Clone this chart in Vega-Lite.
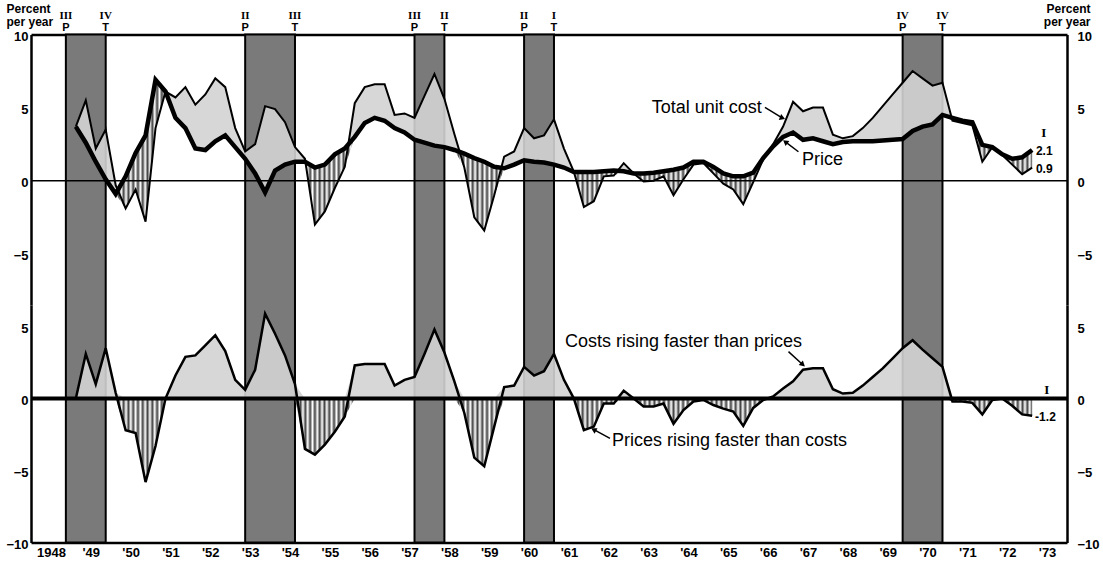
{
  "$schema": "https://vega.github.io/schema/vega-lite/v6.json",
  "width": 1036,
  "height": 508,
  "autosize": "none",
  "padding": {"left": 31, "top": 34.5, "right": 36, "bottom": 19.5},
  "background": "white",
  "config": {
    "view": {"stroke": null},
    "axis": {"zindex": 1},
    "area": {"fill": {"gradient": "linear", "x1": 0, "y1": 0, "x2": 1, "y2": 0, "stops": [
      {"offset":0,"color":"#444"},{"offset":0.0025,"color":"#fff"},{"offset":0.005,"color":"#444"},{"offset":0.0075,"color":"#fff"},
      {"offset":0.01,"color":"#444"},{"offset":0.0125,"color":"#fff"},{"offset":0.015,"color":"#444"},{"offset":0.0175,"color":"#fff"},
      {"offset":0.02,"color":"#444"},{"offset":0.0225,"color":"#fff"},{"offset":0.025,"color":"#444"},{"offset":0.0275,"color":"#fff"},
      {"offset":0.03,"color":"#444"},{"offset":0.0325,"color":"#fff"},{"offset":0.035,"color":"#444"},{"offset":0.0375,"color":"#fff"},
      {"offset":0.04,"color":"#444"},{"offset":0.0425,"color":"#fff"},{"offset":0.045,"color":"#444"},{"offset":0.0475,"color":"#fff"},
      {"offset":0.05,"color":"#444"},{"offset":0.0525,"color":"#fff"},{"offset":0.055,"color":"#444"},{"offset":0.0575,"color":"#fff"},
      {"offset":0.06,"color":"#444"},{"offset":0.0625,"color":"#fff"},{"offset":0.065,"color":"#444"},{"offset":0.0675,"color":"#fff"},
      {"offset":0.07,"color":"#444"},{"offset":0.0725,"color":"#fff"},{"offset":0.075,"color":"#444"},{"offset":0.0775,"color":"#fff"},
      {"offset":0.08,"color":"#444"},{"offset":0.0825,"color":"#fff"},{"offset":0.085,"color":"#444"},{"offset":0.0875,"color":"#fff"},
      {"offset":0.09,"color":"#444"},{"offset":0.0925,"color":"#fff"},{"offset":0.095,"color":"#444"},{"offset":0.0975,"color":"#fff"},
      {"offset":0.1,"color":"#444"},{"offset":0.1025,"color":"#fff"},{"offset":0.105,"color":"#444"},{"offset":0.1075,"color":"#fff"},
      {"offset":0.11,"color":"#444"},{"offset":0.1125,"color":"#fff"},{"offset":0.115,"color":"#444"},{"offset":0.1175,"color":"#fff"},
      {"offset":0.12,"color":"#444"},{"offset":0.1225,"color":"#fff"},{"offset":0.125,"color":"#444"},{"offset":0.1275,"color":"#fff"},
      {"offset":0.13,"color":"#444"},{"offset":0.1325,"color":"#fff"},{"offset":0.135,"color":"#444"},{"offset":0.1375,"color":"#fff"},
      {"offset":0.14,"color":"#444"},{"offset":0.1425,"color":"#fff"},{"offset":0.145,"color":"#444"},{"offset":0.1475,"color":"#fff"},
      {"offset":0.15,"color":"#444"},{"offset":0.1525,"color":"#fff"},{"offset":0.155,"color":"#444"},{"offset":0.1575,"color":"#fff"},
      {"offset":0.16,"color":"#444"},{"offset":0.1625,"color":"#fff"},{"offset":0.165,"color":"#444"},{"offset":0.1675,"color":"#fff"},
      {"offset":0.17,"color":"#444"},{"offset":0.1725,"color":"#fff"},{"offset":0.175,"color":"#444"},{"offset":0.1775,"color":"#fff"},
      {"offset":0.18,"color":"#444"},{"offset":0.1825,"color":"#fff"},{"offset":0.185,"color":"#444"},{"offset":0.1875,"color":"#fff"},
      {"offset":0.19,"color":"#444"},{"offset":0.1925,"color":"#fff"},{"offset":0.195,"color":"#444"},{"offset":0.1975,"color":"#fff"},
      {"offset":0.2,"color":"#444"},{"offset":0.2025,"color":"#fff"},{"offset":0.205,"color":"#444"},{"offset":0.2075,"color":"#fff"},
      {"offset":0.21,"color":"#444"},{"offset":0.2125,"color":"#fff"},{"offset":0.215,"color":"#444"},{"offset":0.2175,"color":"#fff"},
      {"offset":0.22,"color":"#444"},{"offset":0.2225,"color":"#fff"},{"offset":0.225,"color":"#444"},{"offset":0.2275,"color":"#fff"},
      {"offset":0.23,"color":"#444"},{"offset":0.2325,"color":"#fff"},{"offset":0.235,"color":"#444"},{"offset":0.2375,"color":"#fff"},
      {"offset":0.24,"color":"#444"},{"offset":0.2425,"color":"#fff"},{"offset":0.245,"color":"#444"},{"offset":0.2475,"color":"#fff"},
      {"offset":0.25,"color":"#444"},{"offset":0.2525,"color":"#fff"},{"offset":0.255,"color":"#444"},{"offset":0.2575,"color":"#fff"},
      {"offset":0.26,"color":"#444"},{"offset":0.2625,"color":"#fff"},{"offset":0.265,"color":"#444"},{"offset":0.2675,"color":"#fff"},
      {"offset":0.27,"color":"#444"},{"offset":0.2725,"color":"#fff"},{"offset":0.275,"color":"#444"},{"offset":0.2775,"color":"#fff"},
      {"offset":0.28,"color":"#444"},{"offset":0.2825,"color":"#fff"},{"offset":0.285,"color":"#444"},{"offset":0.2875,"color":"#fff"},
      {"offset":0.29,"color":"#444"},{"offset":0.2925,"color":"#fff"},{"offset":0.295,"color":"#444"},{"offset":0.2975,"color":"#fff"},
      {"offset":0.3,"color":"#444"},{"offset":0.3025,"color":"#fff"},{"offset":0.305,"color":"#444"},{"offset":0.3075,"color":"#fff"},
      {"offset":0.31,"color":"#444"},{"offset":0.3125,"color":"#fff"},{"offset":0.315,"color":"#444"},{"offset":0.3175,"color":"#fff"},
      {"offset":0.32,"color":"#444"},{"offset":0.3225,"color":"#fff"},{"offset":0.325,"color":"#444"},{"offset":0.3275,"color":"#fff"},
      {"offset":0.33,"color":"#444"},{"offset":0.3325,"color":"#fff"},{"offset":0.335,"color":"#444"},{"offset":0.3375,"color":"#fff"},
      {"offset":0.34,"color":"#444"},{"offset":0.3425,"color":"#fff"},{"offset":0.345,"color":"#444"},{"offset":0.3475,"color":"#fff"},
      {"offset":0.35,"color":"#444"},{"offset":0.3525,"color":"#fff"},{"offset":0.355,"color":"#444"},{"offset":0.3575,"color":"#fff"},
      {"offset":0.36,"color":"#444"},{"offset":0.3625,"color":"#fff"},{"offset":0.365,"color":"#444"},{"offset":0.3675,"color":"#fff"},
      {"offset":0.37,"color":"#444"},{"offset":0.3725,"color":"#fff"},{"offset":0.375,"color":"#444"},{"offset":0.3775,"color":"#fff"},
      {"offset":0.38,"color":"#444"},{"offset":0.3825,"color":"#fff"},{"offset":0.385,"color":"#444"},{"offset":0.3875,"color":"#fff"},
      {"offset":0.39,"color":"#444"},{"offset":0.3925,"color":"#fff"},{"offset":0.395,"color":"#444"},{"offset":0.3975,"color":"#fff"},
      {"offset":0.4,"color":"#444"},{"offset":0.4025,"color":"#fff"},{"offset":0.405,"color":"#444"},{"offset":0.4075,"color":"#fff"},
      {"offset":0.41,"color":"#444"},{"offset":0.4125,"color":"#fff"},{"offset":0.415,"color":"#444"},{"offset":0.4175,"color":"#fff"},
      {"offset":0.42,"color":"#444"},{"offset":0.4225,"color":"#fff"},{"offset":0.425,"color":"#444"},{"offset":0.4275,"color":"#fff"},
      {"offset":0.43,"color":"#444"},{"offset":0.4325,"color":"#fff"},{"offset":0.435,"color":"#444"},{"offset":0.4375,"color":"#fff"},
      {"offset":0.44,"color":"#444"},{"offset":0.4425,"color":"#fff"},{"offset":0.445,"color":"#444"},{"offset":0.4475,"color":"#fff"},
      {"offset":0.45,"color":"#444"},{"offset":0.4525,"color":"#fff"},{"offset":0.455,"color":"#444"},{"offset":0.4575,"color":"#fff"},
      {"offset":0.46,"color":"#444"},{"offset":0.4625,"color":"#fff"},{"offset":0.465,"color":"#444"},{"offset":0.4675,"color":"#fff"},
      {"offset":0.47,"color":"#444"},{"offset":0.4725,"color":"#fff"},{"offset":0.475,"color":"#444"},{"offset":0.4775,"color":"#fff"},
      {"offset":0.48,"color":"#444"},{"offset":0.4825,"color":"#fff"},{"offset":0.485,"color":"#444"},{"offset":0.4875,"color":"#fff"},
      {"offset":0.49,"color":"#444"},{"offset":0.4925,"color":"#fff"},{"offset":0.495,"color":"#444"},{"offset":0.4975,"color":"#fff"},
      {"offset":0.5,"color":"#444"},{"offset":0.5025,"color":"#fff"},{"offset":0.505,"color":"#444"},{"offset":0.5075,"color":"#fff"},
      {"offset":0.51,"color":"#444"},{"offset":0.5125,"color":"#fff"},{"offset":0.515,"color":"#444"},{"offset":0.5175,"color":"#fff"},
      {"offset":0.52,"color":"#444"},{"offset":0.5225,"color":"#fff"},{"offset":0.525,"color":"#444"},{"offset":0.5275,"color":"#fff"},
      {"offset":0.53,"color":"#444"},{"offset":0.5325,"color":"#fff"},{"offset":0.535,"color":"#444"},{"offset":0.5375,"color":"#fff"},
      {"offset":0.54,"color":"#444"},{"offset":0.5425,"color":"#fff"},{"offset":0.545,"color":"#444"},{"offset":0.5475,"color":"#fff"},
      {"offset":0.55,"color":"#444"},{"offset":0.5525,"color":"#fff"},{"offset":0.555,"color":"#444"},{"offset":0.5575,"color":"#fff"},
      {"offset":0.56,"color":"#444"},{"offset":0.5625,"color":"#fff"},{"offset":0.565,"color":"#444"},{"offset":0.5675,"color":"#fff"},
      {"offset":0.57,"color":"#444"},{"offset":0.5725,"color":"#fff"},{"offset":0.575,"color":"#444"},{"offset":0.5775,"color":"#fff"},
      {"offset":0.58,"color":"#444"},{"offset":0.5825,"color":"#fff"},{"offset":0.585,"color":"#444"},{"offset":0.5875,"color":"#fff"},
      {"offset":0.59,"color":"#444"},{"offset":0.5925,"color":"#fff"},{"offset":0.595,"color":"#444"},{"offset":0.5975,"color":"#fff"},
      {"offset":0.6,"color":"#444"},{"offset":0.6025,"color":"#fff"},{"offset":0.605,"color":"#444"},{"offset":0.6075,"color":"#fff"},
      {"offset":0.61,"color":"#444"},{"offset":0.6125,"color":"#fff"},{"offset":0.615,"color":"#444"},{"offset":0.6175,"color":"#fff"},
      {"offset":0.62,"color":"#444"},{"offset":0.6225,"color":"#fff"},{"offset":0.625,"color":"#444"},{"offset":0.6275,"color":"#fff"},
      {"offset":0.63,"color":"#444"},{"offset":0.6325,"color":"#fff"},{"offset":0.635,"color":"#444"},{"offset":0.6375,"color":"#fff"},
      {"offset":0.64,"color":"#444"},{"offset":0.6425,"color":"#fff"},{"offset":0.645,"color":"#444"},{"offset":0.6475,"color":"#fff"},
      {"offset":0.65,"color":"#444"},{"offset":0.6525,"color":"#fff"},{"offset":0.655,"color":"#444"},{"offset":0.6575,"color":"#fff"},
      {"offset":0.66,"color":"#444"},{"offset":0.6625,"color":"#fff"},{"offset":0.665,"color":"#444"},{"offset":0.6675,"color":"#fff"},
      {"offset":0.67,"color":"#444"},{"offset":0.6725,"color":"#fff"},{"offset":0.675,"color":"#444"},{"offset":0.6775,"color":"#fff"},
      {"offset":0.68,"color":"#444"},{"offset":0.6825,"color":"#fff"},{"offset":0.685,"color":"#444"},{"offset":0.6875,"color":"#fff"},
      {"offset":0.69,"color":"#444"},{"offset":0.6925,"color":"#fff"},{"offset":0.695,"color":"#444"},{"offset":0.6975,"color":"#fff"},
      {"offset":0.7,"color":"#444"},{"offset":0.7025,"color":"#fff"},{"offset":0.705,"color":"#444"},{"offset":0.7075,"color":"#fff"},
      {"offset":0.71,"color":"#444"},{"offset":0.7125,"color":"#fff"},{"offset":0.715,"color":"#444"},{"offset":0.7175,"color":"#fff"},
      {"offset":0.72,"color":"#444"},{"offset":0.7225,"color":"#fff"},{"offset":0.725,"color":"#444"},{"offset":0.7275,"color":"#fff"},
      {"offset":0.73,"color":"#444"},{"offset":0.7325,"color":"#fff"},{"offset":0.735,"color":"#444"},{"offset":0.7375,"color":"#fff"},
      {"offset":0.74,"color":"#444"},{"offset":0.7425,"color":"#fff"},{"offset":0.745,"color":"#444"},{"offset":0.7475,"color":"#fff"},
      {"offset":0.75,"color":"#444"},{"offset":0.7525,"color":"#fff"},{"offset":0.755,"color":"#444"},{"offset":0.7575,"color":"#fff"},
      {"offset":0.76,"color":"#444"},{"offset":0.7625,"color":"#fff"},{"offset":0.765,"color":"#444"},{"offset":0.7675,"color":"#fff"},
      {"offset":0.77,"color":"#444"},{"offset":0.7725,"color":"#fff"},{"offset":0.775,"color":"#444"},{"offset":0.7775,"color":"#fff"},
      {"offset":0.78,"color":"#444"},{"offset":0.7825,"color":"#fff"},{"offset":0.785,"color":"#444"},{"offset":0.7875,"color":"#fff"},
      {"offset":0.79,"color":"#444"},{"offset":0.7925,"color":"#fff"},{"offset":0.795,"color":"#444"},{"offset":0.7975,"color":"#fff"},
      {"offset":0.8,"color":"#444"},{"offset":0.8025,"color":"#fff"},{"offset":0.805,"color":"#444"},{"offset":0.8075,"color":"#fff"},
      {"offset":0.81,"color":"#444"},{"offset":0.8125,"color":"#fff"},{"offset":0.815,"color":"#444"},{"offset":0.8175,"color":"#fff"},
      {"offset":0.82,"color":"#444"},{"offset":0.8225,"color":"#fff"},{"offset":0.825,"color":"#444"},{"offset":0.8275,"color":"#fff"},
      {"offset":0.83,"color":"#444"},{"offset":0.8325,"color":"#fff"},{"offset":0.835,"color":"#444"},{"offset":0.8375,"color":"#fff"},
      {"offset":0.84,"color":"#444"},{"offset":0.8425,"color":"#fff"},{"offset":0.845,"color":"#444"},{"offset":0.8475,"color":"#fff"},
      {"offset":0.85,"color":"#444"},{"offset":0.8525,"color":"#fff"},{"offset":0.855,"color":"#444"},{"offset":0.8575,"color":"#fff"},
      {"offset":0.86,"color":"#444"},{"offset":0.8625,"color":"#fff"},{"offset":0.865,"color":"#444"},{"offset":0.8675,"color":"#fff"},
      {"offset":0.87,"color":"#444"},{"offset":0.8725,"color":"#fff"},{"offset":0.875,"color":"#444"},{"offset":0.8775,"color":"#fff"},
      {"offset":0.88,"color":"#444"},{"offset":0.8825,"color":"#fff"},{"offset":0.885,"color":"#444"},{"offset":0.8875,"color":"#fff"},
      {"offset":0.89,"color":"#444"},{"offset":0.8925,"color":"#fff"},{"offset":0.895,"color":"#444"},{"offset":0.8975,"color":"#fff"},
      {"offset":0.9,"color":"#444"},{"offset":0.9025,"color":"#fff"},{"offset":0.905,"color":"#444"},{"offset":0.9075,"color":"#fff"},
      {"offset":0.91,"color":"#444"},{"offset":0.9125,"color":"#fff"},{"offset":0.915,"color":"#444"},{"offset":0.9175,"color":"#fff"},
      {"offset":0.92,"color":"#444"},{"offset":0.9225,"color":"#fff"},{"offset":0.925,"color":"#444"},{"offset":0.9275,"color":"#fff"},
      {"offset":0.93,"color":"#444"},{"offset":0.9325,"color":"#fff"},{"offset":0.935,"color":"#444"},{"offset":0.9375,"color":"#fff"},
      {"offset":0.94,"color":"#444"},{"offset":0.9425,"color":"#fff"},{"offset":0.945,"color":"#444"},{"offset":0.9475,"color":"#fff"},
      {"offset":0.95,"color":"#444"},{"offset":0.9525,"color":"#fff"},{"offset":0.955,"color":"#444"},{"offset":0.9575,"color":"#fff"},
      {"offset":0.96,"color":"#444"},{"offset":0.9625,"color":"#fff"},{"offset":0.965,"color":"#444"},{"offset":0.9675,"color":"#fff"},
      {"offset":0.97,"color":"#444"},{"offset":0.9725,"color":"#fff"},{"offset":0.975,"color":"#444"},{"offset":0.9775,"color":"#fff"},
      {"offset":0.98,"color":"#444"},{"offset":0.9825,"color":"#fff"},{"offset":0.985,"color":"#444"},{"offset":0.9875,"color":"#fff"},
      {"offset":0.99,"color":"#444"},{"offset":0.9925,"color":"#fff"},{"offset":0.995,"color":"#444"},{"offset":0.9975,"color":"#fff"},
      {"offset":1,"color":"#444"}
    ]}}
  },
  "datasets": {
    "q": [
      {"t": 1949.125, "cost": 3.7, "price": 3.7, "diff": 0.0},
      {"t": 1949.375, "cost": 5.5, "price": 2.6, "diff": 3.1},
      {"t": 1949.625, "cost": 2.2, "price": 1.3, "diff": 1.0},
      {"t": 1949.875, "cost": 3.5, "price": 0.1, "diff": 3.5},
      {"t": 1950.125, "cost": -0.3, "price": -0.9, "diff": 0.4},
      {"t": 1950.375, "cost": -1.9, "price": 0.3, "diff": -2.2},
      {"t": 1950.625, "cost": -0.6, "price": 1.9, "diff": -2.4},
      {"t": 1950.875, "cost": -2.8, "price": 3.1, "diff": -5.8},
      {"t": 1951.125, "cost": 3.6, "price": 6.9, "diff": -3.3},
      {"t": 1951.375, "cost": 6.1, "price": 6.1, "diff": 0.0},
      {"t": 1951.625, "cost": 5.7, "price": 4.3, "diff": 1.6},
      {"t": 1951.875, "cost": 6.4, "price": 3.6, "diff": 2.9},
      {"t": 1952.125, "cost": 5.2, "price": 2.2, "diff": 3.0},
      {"t": 1952.375, "cost": 5.9, "price": 2.1, "diff": 3.7},
      {"t": 1952.625, "cost": 7.0, "price": 2.7, "diff": 4.4},
      {"t": 1952.875, "cost": 6.4, "price": 3.1, "diff": 3.3},
      {"t": 1953.125, "cost": 3.6, "price": 2.3, "diff": 1.3},
      {"t": 1953.375, "cost": 2.0, "price": 1.5, "diff": 0.6},
      {"t": 1953.625, "cost": 2.5, "price": 0.5, "diff": 2.0},
      {"t": 1953.875, "cost": 5.1, "price": -0.8, "diff": 5.9},
      {"t": 1954.125, "cost": 4.9, "price": 0.7, "diff": 4.5},
      {"t": 1954.375, "cost": 4.0, "price": 1.1, "diff": 3.0},
      {"t": 1954.625, "cost": 2.3, "price": 1.3, "diff": 1.0},
      {"t": 1954.875, "cost": 1.5, "price": 1.3, "diff": -3.5},
      {"t": 1955.125, "cost": -3.0, "price": 0.9, "diff": -3.9},
      {"t": 1955.375, "cost": -2.1, "price": 1.1, "diff": -3.2},
      {"t": 1955.625, "cost": -0.5, "price": 1.8, "diff": -2.3},
      {"t": 1955.875, "cost": 0.95, "price": 2.2, "diff": -1.25},
      {"t": 1956.125, "cost": 5.3, "price": 3.0, "diff": 2.3},
      {"t": 1956.375, "cost": 6.4, "price": 3.95, "diff": 2.4},
      {"t": 1956.625, "cost": 6.6, "price": 4.3, "diff": 2.4},
      {"t": 1956.875, "cost": 6.6, "price": 4.1, "diff": 2.4},
      {"t": 1957.125, "cost": 4.5, "price": 3.6, "diff": 0.9},
      {"t": 1957.375, "cost": 4.6, "price": 3.3, "diff": 1.3},
      {"t": 1957.625, "cost": 4.3, "price": 2.8, "diff": 1.5},
      {"t": 1957.875, "cost": 5.8, "price": 2.6, "diff": 3.1},
      {"t": 1958.125, "cost": 7.3, "price": 2.4, "diff": 4.8},
      {"t": 1958.375, "cost": 5.6, "price": 2.3, "diff": 3.2},
      {"t": 1958.625, "cost": 3.2, "price": 2.1, "diff": 1.2},
      {"t": 1958.875, "cost": 0.9, "price": 1.85, "diff": -1.0},
      {"t": 1959.125, "cost": -2.5, "price": 1.55, "diff": -4.1},
      {"t": 1959.375, "cost": -3.4, "price": 1.3, "diff": -4.7},
      {"t": 1959.625, "cost": -1.0, "price": 0.95, "diff": -1.95},
      {"t": 1959.875, "cost": 1.65, "price": 0.85, "diff": 0.8},
      {"t": 1960.125, "cost": 2.0, "price": 1.1, "diff": 0.9},
      {"t": 1960.375, "cost": 3.6, "price": 1.4, "diff": 2.2},
      {"t": 1960.625, "cost": 2.9, "price": 1.3, "diff": 1.6},
      {"t": 1960.875, "cost": 3.1, "price": 1.25, "diff": 1.9},
      {"t": 1961.125, "cost": 4.2, "price": 1.1, "diff": 3.1},
      {"t": 1961.375, "cost": 2.2, "price": 0.9, "diff": 1.3},
      {"t": 1961.625, "cost": 0.6, "price": 0.6, "diff": 0.0},
      {"t": 1961.875, "cost": -1.8, "price": 0.6, "diff": -2.2},
      {"t": 1962.125, "cost": -1.4, "price": 0.6, "diff": -1.95},
      {"t": 1962.375, "cost": 0.3, "price": 0.65, "diff": -0.35},
      {"t": 1962.625, "cost": 0.35, "price": 0.7, "diff": -0.35},
      {"t": 1962.875, "cost": 1.2, "price": 0.65, "diff": 0.55},
      {"t": 1963.125, "cost": 0.5, "price": 0.5, "diff": 0.0},
      {"t": 1963.375, "cost": -0.05, "price": 0.5, "diff": -0.55},
      {"t": 1963.625, "cost": 0.0, "price": 0.55, "diff": -0.55},
      {"t": 1963.875, "cost": 0.3, "price": 0.65, "diff": -0.35},
      {"t": 1964.125, "cost": -1.0, "price": 0.75, "diff": -1.75},
      {"t": 1964.375, "cost": 0.1, "price": 0.9, "diff": -0.8},
      {"t": 1964.625, "cost": 1.1, "price": 1.3, "diff": -0.2},
      {"t": 1964.875, "cost": 1.2, "price": 1.3, "diff": -0.1},
      {"t": 1965.125, "cost": 0.5, "price": 0.95, "diff": -0.45},
      {"t": 1965.375, "cost": -0.2, "price": 0.5, "diff": -0.7},
      {"t": 1965.625, "cost": -0.6, "price": 0.3, "diff": -0.9},
      {"t": 1965.875, "cost": -1.6, "price": 0.3, "diff": -1.9},
      {"t": 1966.125, "cost": -0.1, "price": 0.55, "diff": -0.65},
      {"t": 1966.375, "cost": 1.45, "price": 1.55, "diff": -0.1},
      {"t": 1966.625, "cost": 2.5, "price": 2.35, "diff": 0.15},
      {"t": 1966.875, "cost": 3.7, "price": 3.0, "diff": 0.7},
      {"t": 1967.125, "cost": 5.4, "price": 3.3, "diff": 1.2},
      {"t": 1967.375, "cost": 4.75, "price": 2.8, "diff": 2.0},
      {"t": 1967.625, "cost": 5.0, "price": 2.9, "diff": 2.1},
      {"t": 1967.875, "cost": 5.0, "price": 2.7, "diff": 2.1},
      {"t": 1968.125, "cost": 3.15, "price": 2.5, "diff": 0.65},
      {"t": 1968.375, "cost": 2.9, "price": 2.65, "diff": 0.35},
      {"t": 1968.625, "cost": 3.05, "price": 2.7, "diff": 0.4},
      {"t": 1968.875, "cost": 3.6, "price": 2.7, "diff": 0.9},
      {"t": 1969.125, "cost": 4.3, "price": 2.7, "diff": 1.5},
      {"t": 1969.375, "cost": 5.1, "price": 2.75, "diff": 2.1},
      {"t": 1969.625, "cost": 5.9, "price": 2.8, "diff": 2.8},
      {"t": 1969.875, "cost": 6.7, "price": 2.85, "diff": 3.5},
      {"t": 1970.125, "cost": 7.5, "price": 3.4, "diff": 4.05},
      {"t": 1970.375, "cost": 7.0, "price": 3.7, "diff": 3.4},
      {"t": 1970.625, "cost": 6.5, "price": 3.85, "diff": 2.8},
      {"t": 1970.875, "cost": 6.7, "price": 4.5, "diff": 2.2},
      {"t": 1971.125, "cost": 4.1, "price": 4.3, "diff": -0.2},
      {"t": 1971.375, "cost": 3.95, "price": 4.1, "diff": -0.2},
      {"t": 1971.625, "cost": 3.8, "price": 4.0, "diff": -0.3},
      {"t": 1971.875, "cost": 1.3, "price": 2.45, "diff": -1.1},
      {"t": 1972.125, "cost": 2.3, "price": 2.3, "diff": -0.1},
      {"t": 1972.375, "cost": 1.75, "price": 1.8, "diff": 0.0},
      {"t": 1972.625, "cost": 1.1, "price": 1.5, "diff": -0.5},
      {"t": 1972.875, "cost": 0.45, "price": 1.6, "diff": -1.1},
      {"t": 1973.125, "cost": 0.9, "price": 2.1, "diff": -1.2}
    ],
    "rec": [
      {"start": 1948.875, "end": 1949.875, "pq": "III", "tq": "IV"},
      {"start": 1953.375, "end": 1954.625, "pq": "II", "tq": "III"},
      {"start": 1957.625, "end": 1958.375, "pq": "III", "tq": "II"},
      {"start": 1960.375, "end": 1961.125, "pq": "II", "tq": "I"},
      {"start": 1969.875, "end": 1970.875, "pq": "IV", "tq": "IV"}
    ]
  },
  "data": {"name": "q"},
  "resolve": {"scale": {"y": "independent"}, "axis": {"x": "independent", "y": "independent"}},
  "layer": [
    {
      "data": {"name": "rec"},
      "mark": {"type": "rect", "fill": "#7a7a7a", "stroke": "black", "strokeWidth": 2},
      "encoding": {
        "x": {"field": "start", "type": "quantitative", "scale": {"domain": [1948, 1974], "nice": false, "zero": false},
          "axis": {"orient": "bottom", "values": [1948.5,1949.5,1950.5,1951.5,1952.5,1953.5,1954.5,1955.5,1956.5,1957.5,1958.5,1959.5,1960.5,1961.5,1962.5,1963.5,1964.5,1965.5,1966.5,1967.5,1968.5,1969.5,1970.5,1971.5,1972.5,1973.5],
            "ticks": false, "domain": true, "domainColor": "black", "domainWidth": 2.5, "labelPadding": 4, "labelFlush": false, "labelOverlap": false,
            "labelExpr": "datum.value < 1949 ? '1948' : \"'\" + substring(format(floor(datum.value), 'd'), 2, 4)",
            "labelFont": "Liberation Sans", "labelFontSize": 13, "labelFontWeight": "bold", "labelColor": "black", "grid": false, "title": null}},
        "x2": {"field": "end"}
      }
    },
    {
      "transform": [{"fold": ["cost", "price"], "as": ["series", "v"]}, {"aggregate": [{"op": "min", "field": "v", "as": "lo"}], "groupby": ["t", "cost", "price"]}],
      "mark": {"type": "area", "fill": "#d3d3d3", "fillOpacity": 0.9},
      "encoding": {
        "x": {"field": "t", "type": "quantitative", "scale": {"domain": [1948, 1974], "nice": false, "zero": false}, "axis": null},
        "y": {"field": "cost", "type": "quantitative", "scale": {"domain": [-8.5, 10], "range": [270.5, 0], "nice": false, "zero": false},
          "axis": {"orient": "right", "values": [-5, 0, 5, 10], "domain": true, "domainColor": "black", "domainWidth": 2.5, "ticks": false, "labelPadding": 10, "labelOffset": 2,
            "labelFont": "Liberation Sans", "labelFontSize": 13, "labelFontWeight": "bold", "labelColor": "black", "grid": false,
            "title": ["Percent", "per year"], "titleAngle": 0, "titleAlign": "right", "titleBaseline": "top", "titleX": 23, "titleY": -31,
            "titleFont": "Liberation Sans", "titleFontSize": 12, "titleFontWeight": "bold", "titleColor": "black", "titleLineHeight": 13}},
        "y2": {"field": "lo"}
      }
    },
    {
      "transform": [{"fold": ["cost", "price"], "as": ["series", "v"]}, {"aggregate": [{"op": "min", "field": "v", "as": "lo"}], "groupby": ["t", "cost", "price"]}],
      "mark": {"type": "area"},
      "encoding": {
        "x": {"field": "t", "type": "quantitative", "scale": {"domain": [1948, 1974], "nice": false, "zero": false}, "axis": null},
        "y": {"field": "price", "type": "quantitative", "scale": {"domain": [-8.5, 10], "range": [270.5, 0], "nice": false, "zero": false}, "axis": null},
        "y2": {"field": "lo"}
      }
    },
    {
      "data": {"values": [{}]},
      "mark": {"type": "rule", "color": "black", "strokeWidth": 1.5},
      "encoding": {
        "y": {"datum": 0, "type": "quantitative", "scale": {"domain": [-8.5, 10], "range": [270.5, 0], "nice": false, "zero": false}, "axis": null}
      }
    },
    {
      "mark": {"type": "line", "color": "black", "strokeWidth": 2},
      "encoding": {
        "x": {"field": "t", "type": "quantitative", "scale": {"domain": [1948, 1974], "nice": false, "zero": false}, "axis": null},
        "y": {"field": "cost", "type": "quantitative", "scale": {"domain": [-8.5, 10], "range": [270.5, 0], "nice": false, "zero": false},
          "axis": {"orient": "left", "values": [-5, 0, 5, 10], "domain": true, "domainColor": "black", "domainWidth": 2.5, "ticks": false, "labelPadding": 3, "labelOffset": 2,
            "labelFont": "Liberation Sans", "labelFontSize": 13, "labelFontWeight": "bold", "labelColor": "black", "grid": false,
            "title": ["Percent", "per year"], "titleAngle": 0, "titleAlign": "left", "titleBaseline": "top", "titleX": -25, "titleY": -31,
            "titleFont": "Liberation Sans", "titleFontSize": 12, "titleFontWeight": "bold", "titleColor": "black", "titleLineHeight": 13}}
      }
    },
    {
      "mark": {"type": "line", "color": "black", "strokeWidth": 4.5},
      "encoding": {
        "x": {"field": "t", "type": "quantitative", "scale": {"domain": [1948, 1974], "nice": false, "zero": false},
          "axis": {"orient": "top", "values": [1950], "labels": false, "domain": true, "domainColor": "black", "domainWidth": 2.5, "ticks": false, "grid": false, "title": null}},
        "y": {"field": "price", "type": "quantitative", "scale": {"domain": [-8.5, 10], "range": [270.5, 0], "nice": false, "zero": false}, "axis": null}
      }
    },
    {
      "mark": {"type": "area", "fill": "#d3d3d3", "fillOpacity": 0.9},
      "encoding": {
        "x": {"field": "t", "type": "quantitative", "scale": {"domain": [1948, 1974], "nice": false, "zero": false}, "axis": null},
        "y": {"field": "diff", "type": "quantitative", "scale": {"domain": [0, 6.5], "range": [364.06, 270.5], "nice": false, "zero": false, "clamp": true}, "axis": null},
        "y2": {"datum": 0}
      }
    },
    {
      "mark": {"type": "area"},
      "encoding": {
        "x": {"field": "t", "type": "quantitative", "scale": {"domain": [1948, 1974], "nice": false, "zero": false}, "axis": null},
        "y": {"field": "diff", "type": "quantitative", "scale": {"domain": [-10, 0], "range": [508, 364.06], "nice": false, "zero": false, "clamp": true}, "axis": null},
        "y2": {"datum": 0}
      }
    },
    {
      "data": {"values": [{}]},
      "mark": {"type": "rule", "color": "black", "strokeWidth": 4},
      "encoding": {
        "y": {"datum": 0, "type": "quantitative", "scale": {"domain": [-10, 6.5], "range": [508, 270.5], "nice": false, "zero": false}, "axis": null}
      }
    },
    {
      "mark": {"type": "line", "color": "black", "strokeWidth": 2.5},
      "encoding": {
        "x": {"field": "t", "type": "quantitative", "scale": {"domain": [1948, 1974], "nice": false, "zero": false}, "axis": null},
        "y": {"field": "diff", "type": "quantitative", "scale": {"domain": [-10, 6.5], "range": [508, 270.5], "nice": false, "zero": false},
          "axis": {"orient": "left", "values": [-10, -5, 0, 5], "domain": true, "domainColor": "black", "domainWidth": 2.5, "ticks": false, "labelPadding": 3, "labelOffset": 2,
            "labelFont": "Liberation Sans", "labelFontSize": 13, "labelFontWeight": "bold", "labelColor": "black", "grid": false, "title": null}}
      }
    },
    {
      "data": {"name": "rec"},
      "mark": {"type": "text", "font": "Liberation Serif", "fontSize": 11, "fontWeight": "bold", "color": "black", "align": "center", "baseline": "middle"},
      "encoding": {
        "x": {"field": "start", "type": "quantitative", "scale": {"domain": [1948, 1974], "nice": false, "zero": false}, "axis": null},
        "y": {"datum": 11.27, "type": "quantitative", "scale": {"domain": [-8.5, 10], "range": [270.5, 0], "nice": false, "zero": false}, "axis": null},
        "text": {"field": "pq"}
      }
    },
    {
      "data": {"name": "rec"},
      "mark": {"type": "text", "font": "Liberation Sans", "fontSize": 11, "fontWeight": "bold", "color": "black", "align": "center", "baseline": "middle"},
      "encoding": {
        "x": {"field": "start", "type": "quantitative", "scale": {"domain": [1948, 1974], "nice": false, "zero": false}, "axis": null},
        "y": {"datum": 10.44, "type": "quantitative", "scale": {"domain": [-8.5, 10], "range": [270.5, 0], "nice": false, "zero": false}, "axis": null},
        "text": {"value": "P"}
      }
    },
    {
      "data": {"name": "rec"},
      "mark": {"type": "text", "font": "Liberation Serif", "fontSize": 11, "fontWeight": "bold", "color": "black", "align": "center", "baseline": "middle"},
      "encoding": {
        "x": {"field": "end", "type": "quantitative", "scale": {"domain": [1948, 1974], "nice": false, "zero": false}, "axis": null},
        "y": {"datum": 11.27, "type": "quantitative", "scale": {"domain": [-8.5, 10], "range": [270.5, 0], "nice": false, "zero": false}, "axis": null},
        "text": {"field": "tq"}
      }
    },
    {
      "data": {"name": "rec"},
      "mark": {"type": "text", "font": "Liberation Sans", "fontSize": 11, "fontWeight": "bold", "color": "black", "align": "center", "baseline": "middle"},
      "encoding": {
        "x": {"field": "end", "type": "quantitative", "scale": {"domain": [1948, 1974], "nice": false, "zero": false}, "axis": null},
        "y": {"datum": 10.44, "type": "quantitative", "scale": {"domain": [-8.5, 10], "range": [270.5, 0], "nice": false, "zero": false}, "axis": null},
        "text": {"value": "T"}
      }
    },
    {
      "data": {"values": [{}]},
      "mark": {"type": "text", "font": "Liberation Sans", "fontSize": 18, "color": "black", "align": "left", "baseline": "middle"},
      "encoding": {
        "x": {"datum": 1963.58, "type": "quantitative", "scale": {"domain": [1948, 1974], "nice": false, "zero": false}, "axis": null},
        "y": {"datum": 4.95, "type": "quantitative", "scale": {"domain": [-8.5, 10], "range": [270.5, 0], "nice": false, "zero": false}, "axis": null},
        "text": {"value": "Total unit cost"}
      }
    },
    {
      "data": {"values": [{}]},
      "mark": {"type": "text", "font": "Liberation Sans", "fontSize": 18, "color": "black", "align": "left", "baseline": "middle"},
      "encoding": {
        "x": {"datum": 1967.35, "type": "quantitative", "scale": {"domain": [1948, 1974], "nice": false, "zero": false}, "axis": null},
        "y": {"datum": 1.42, "type": "quantitative", "scale": {"domain": [-8.5, 10], "range": [270.5, 0], "nice": false, "zero": false}, "axis": null},
        "text": {"value": "Price"}
      }
    },
    {
      "data": {"values": [{}]},
      "mark": {"type": "rule", "color": "black", "strokeWidth": 1.5},
      "encoding": {
        "x": {"datum": 1966.42, "type": "quantitative", "scale": {"domain": [1948, 1974], "nice": false, "zero": false}, "axis": null},
        "x2": {"datum": 1966.84},
        "y": {"datum": 5.02, "type": "quantitative", "scale": {"domain": [-8.5, 10], "range": [270.5, 0], "nice": false, "zero": false}, "axis": null},
        "y2": {"datum": 4.32}
      }
    },
    {
      "data": {"values": [{}]},
      "mark": {"type": "point", "shape": "triangle-right", "filled": true, "color": "black", "opacity": 1, "size": 40, "angle": 22},
      "encoding": {
        "x": {"datum": 1966.86, "type": "quantitative", "scale": {"domain": [1948, 1974], "nice": false, "zero": false}, "axis": null},
        "y": {"datum": 4.29, "type": "quantitative", "scale": {"domain": [-8.5, 10], "range": [270.5, 0], "nice": false, "zero": false}, "axis": null}
      }
    },
    {
      "data": {"values": [{}]},
      "mark": {"type": "rule", "color": "black", "strokeWidth": 1.5},
      "encoding": {
        "x": {"datum": 1967.26, "type": "quantitative", "scale": {"domain": [1948, 1974], "nice": false, "zero": false}, "axis": null},
        "x2": {"datum": 1966.95},
        "y": {"datum": 1.98, "type": "quantitative", "scale": {"domain": [-8.5, 10], "range": [270.5, 0], "nice": false, "zero": false}, "axis": null},
        "y2": {"datum": 2.62}
      }
    },
    {
      "data": {"values": [{}]},
      "mark": {"type": "point", "shape": "triangle-right", "filled": true, "color": "black", "opacity": 1, "size": 40, "angle": 217},
      "encoding": {
        "x": {"datum": 1966.93, "type": "quantitative", "scale": {"domain": [1948, 1974], "nice": false, "zero": false}, "axis": null},
        "y": {"datum": 2.66, "type": "quantitative", "scale": {"domain": [-8.5, 10], "range": [270.5, 0], "nice": false, "zero": false}, "axis": null}
      }
    },
    {
      "data": {"values": [{}]},
      "mark": {"type": "text", "font": "Liberation Serif", "fontSize": 13, "fontWeight": "bold", "color": "black", "align": "center", "baseline": "middle"},
      "encoding": {
        "x": {"datum": 1973.42, "type": "quantitative", "scale": {"domain": [1948, 1974], "nice": false, "zero": false}, "axis": null},
        "y": {"datum": 3.26, "type": "quantitative", "scale": {"domain": [-8.5, 10], "range": [270.5, 0], "nice": false, "zero": false}, "axis": null},
        "text": {"value": "I"}
      }
    },
    {
      "data": {"values": [{}]},
      "mark": {"type": "text", "font": "Liberation Sans", "fontSize": 12, "fontWeight": "bold", "color": "black", "align": "left", "baseline": "middle"},
      "encoding": {
        "x": {"datum": 1973.22, "type": "quantitative", "scale": {"domain": [1948, 1974], "nice": false, "zero": false}, "axis": null},
        "y": {"datum": 2.03, "type": "quantitative", "scale": {"domain": [-8.5, 10], "range": [270.5, 0], "nice": false, "zero": false}, "axis": null},
        "text": {"value": "2.1"}
      }
    },
    {
      "data": {"values": [{}]},
      "mark": {"type": "text", "font": "Liberation Sans", "fontSize": 12, "fontWeight": "bold", "color": "black", "align": "left", "baseline": "middle"},
      "encoding": {
        "x": {"datum": 1973.22, "type": "quantitative", "scale": {"domain": [1948, 1974], "nice": false, "zero": false}, "axis": null},
        "y": {"datum": 0.8, "type": "quantitative", "scale": {"domain": [-8.5, 10], "range": [270.5, 0], "nice": false, "zero": false}, "axis": null},
        "text": {"value": "0.9"}
      }
    },
    {
      "data": {"values": [{}]},
      "mark": {"type": "text", "font": "Liberation Sans", "fontSize": 18, "color": "black", "align": "left", "baseline": "middle"},
      "encoding": {
        "x": {"datum": 1961.4, "type": "quantitative", "scale": {"domain": [1948, 1974], "nice": false, "zero": false}, "axis": null},
        "y": {"datum": 3.95, "type": "quantitative", "scale": {"domain": [-10, 6.5], "range": [508, 270.5], "nice": false, "zero": false},
          "axis": {"orient": "right", "values": [-10, -5, 0, 5], "domain": true, "domainColor": "black", "domainWidth": 2.5, "ticks": false, "labelPadding": 10, "labelOffset": 2,
            "labelFont": "Liberation Sans", "labelFontSize": 13, "labelFontWeight": "bold", "labelColor": "black", "grid": false, "title": null}},
        "text": {"value": "Costs rising faster than prices"}
      }
    },
    {
      "data": {"values": [{}]},
      "mark": {"type": "text", "font": "Liberation Sans", "fontSize": 18, "color": "black", "align": "left", "baseline": "middle"},
      "encoding": {
        "x": {"datum": 1962.58, "type": "quantitative", "scale": {"domain": [1948, 1974], "nice": false, "zero": false}, "axis": null},
        "y": {"datum": -2.93, "type": "quantitative", "scale": {"domain": [-10, 6.5], "range": [508, 270.5], "nice": false, "zero": false}, "axis": null},
        "text": {"value": "Prices rising faster than costs"}
      }
    },
    {
      "data": {"values": [{}]},
      "mark": {"type": "rule", "color": "black", "strokeWidth": 1.5},
      "encoding": {
        "x": {"datum": 1967.01, "type": "quantitative", "scale": {"domain": [1948, 1974], "nice": false, "zero": false}, "axis": null},
        "x2": {"datum": 1967.35},
        "y": {"datum": 3.26, "type": "quantitative", "scale": {"domain": [-10, 6.5], "range": [508, 270.5], "nice": false, "zero": false}, "axis": null},
        "y2": {"datum": 2.4}
      }
    },
    {
      "data": {"values": [{}]},
      "mark": {"type": "point", "shape": "triangle-right", "filled": true, "color": "black", "opacity": 1, "size": 40, "angle": 42},
      "encoding": {
        "x": {"datum": 1967.37, "type": "quantitative", "scale": {"domain": [1948, 1974], "nice": false, "zero": false}, "axis": null},
        "y": {"datum": 2.36, "type": "quantitative", "scale": {"domain": [-10, 6.5], "range": [508, 270.5], "nice": false, "zero": false}, "axis": null}
      }
    },
    {
      "data": {"values": [{}]},
      "mark": {"type": "rule", "color": "black", "strokeWidth": 1.5},
      "encoding": {
        "x": {"datum": 1962.53, "type": "quantitative", "scale": {"domain": [1948, 1974], "nice": false, "zero": false}, "axis": null},
        "x2": {"datum": 1962.15},
        "y": {"datum": -2.76, "type": "quantitative", "scale": {"domain": [-10, 6.5], "range": [508, 270.5], "nice": false, "zero": false}, "axis": null},
        "y2": {"datum": -2.19}
      }
    },
    {
      "data": {"values": [{}]},
      "mark": {"type": "point", "shape": "triangle-right", "filled": true, "color": "black", "opacity": 1, "size": 40, "angle": 208},
      "encoding": {
        "x": {"datum": 1962.12, "type": "quantitative", "scale": {"domain": [1948, 1974], "nice": false, "zero": false}, "axis": null},
        "y": {"datum": -2.16, "type": "quantitative", "scale": {"domain": [-10, 6.5], "range": [508, 270.5], "nice": false, "zero": false}, "axis": null}
      }
    },
    {
      "data": {"values": [{}]},
      "mark": {"type": "text", "font": "Liberation Serif", "fontSize": 13, "fontWeight": "bold", "color": "black", "align": "center", "baseline": "middle"},
      "encoding": {
        "x": {"datum": 1973.49, "type": "quantitative", "scale": {"domain": [1948, 1974], "nice": false, "zero": false}, "axis": null},
        "y": {"datum": 0.59, "type": "quantitative", "scale": {"domain": [-10, 6.5], "range": [508, 270.5], "nice": false, "zero": false}, "axis": null},
        "text": {"value": "I"}
      }
    },
    {
      "data": {"values": [{}]},
      "mark": {"type": "text", "font": "Liberation Sans", "fontSize": 12, "fontWeight": "bold", "color": "black", "align": "left", "baseline": "middle"},
      "encoding": {
        "x": {"datum": 1973.2, "type": "quantitative", "scale": {"domain": [1948, 1974], "nice": false, "zero": false}, "axis": null},
        "y": {"datum": -1.26, "type": "quantitative", "scale": {"domain": [-10, 6.5], "range": [508, 270.5], "nice": false, "zero": false}, "axis": null},
        "text": {"value": "-1.2"}
      }
    }
  ]
}
